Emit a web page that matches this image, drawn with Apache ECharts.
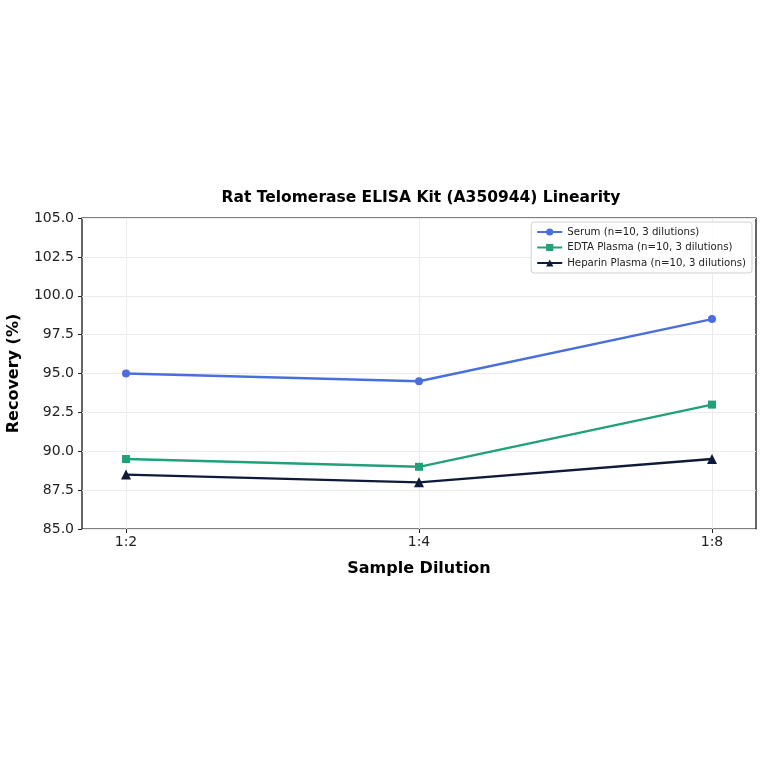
<!DOCTYPE html>
<html>
<head>
<meta charset="utf-8">
<script src="https://cdn.jsdelivr.net/npm/echarts@6/dist/echarts.min.js"></script>
<style>
  html, body { margin: 0; padding: 0; background: #fff; }
  #chart { width: 764px; height: 764px; }
</style>
</head>
<body>
<div id="chart"></div>
<script>
const dilutions = ['1:2', '1:4', '1:8']
const serum = [95.0, 94.5, 98.5]
const edtaPlasma = [89.5, 89.0, 93.0]
const heparinPlasma = [88.5, 88.0, 89.5]
const seriesNames = [
  'Serum (n=10, 3 dilutions)',
  'EDTA Plasma (n=10, 3 dilutions)',
  'Heparin Plasma (n=10, 3 dilutions)'
]
const colors = ['#4a6fdc', '#22a07a', '#0f1a3a']

const chart = echarts.init(document.getElementById('chart'))
const font = 'DejaVu Sans'

const makeLine = (name, data, color, symbol) => ({
  name,
  type: 'line',
  xAxisIndex: 1,
  yAxisIndex: 1,
  data,
  symbol,
  symbolSize: symbol === 'triangle' ? 10 : 8,
  showSymbol: true,
  lineStyle: { color, width: 2.4 },
  itemStyle: { color },
  emphasis: { disabled: true },
  z: 5
})

const option = {
  animation: false,
  backgroundColor: '#fff',
  title: {
    text: 'Rat Telomerase ELISA Kit (A350944) Linearity',
    left: 416,
    top: 185,
    textAlign: 'center',
    textStyle: { fontFamily: font, fontSize: 15.5, fontWeight: 'bold', color: '#000' }
  },
  legend: {
    right: 12,
    top: 222,
    orient: 'vertical',
    itemGap: 5.5,
    itemWidth: 25,
    itemHeight: 9,
    padding: [5, 6, 5, 5],
    borderColor: '#d0d0d0',
    borderWidth: 1,
    borderRadius: 3,
    backgroundColor: 'rgba(255,255,255,0.85)',
    textStyle: { fontFamily: font, fontSize: 10.2, color: '#222' },
    data: seriesNames
  },
  grid: [
    { left: 82, right: 8, top: 218, bottom: 235, outerBoundsMode: 'none', containLabel: false, show: true, borderColor: '#000', borderWidth: 1.2, backgroundColor: 'transparent' },
    { left: 126, right: 52, top: 218, bottom: 235, outerBoundsMode: 'none', containLabel: false }
  ],
  xAxis: [
    { gridIndex: 0, type: 'value', show: false, min: 0, max: 1 },
    {
      gridIndex: 1,
      type: 'category',
      data: dilutions,
      boundaryGap: false,
      name: 'Sample Dilution',
      nameLocation: 'middle',
      nameGap: 32,
      nameTextStyle: { fontFamily: font, fontSize: 16, fontWeight: 'bold', color: '#000' },
      axisLine: { show: false },
      axisTick: { show: true, alignWithLabel: true, length: 4, lineStyle: { color: '#222' } },
      axisLabel: { fontFamily: font, fontSize: 14, color: '#222', margin: 6 },
      splitLine: { show: true, lineStyle: { color: '#ebebeb', width: 1 } }
    }
  ],
  yAxis: [
    {
      gridIndex: 0,
      type: 'value',
      min: 85,
      max: 105,
      interval: 2.5,
      name: 'Recovery (%)',
      nameLocation: 'middle',
      nameGap: 60,
      nameTextStyle: { fontFamily: font, fontSize: 16, fontWeight: 'bold', color: '#000' },
      axisLine: { show: false },
      axisTick: { show: true, length: 4, lineStyle: { color: '#222' } },
      axisLabel: { fontFamily: font, fontSize: 14, color: '#222', margin: 8, formatter: v => v.toFixed(1) },
      splitLine: { show: true, lineStyle: { color: '#ebebeb', width: 1 } }
    },
    { gridIndex: 1, type: 'value', min: 85, max: 105, interval: 2.5, show: false, splitLine: { show: false } }
  ],
  series: [
    makeLine(seriesNames[0], serum, colors[0], 'circle'),
    makeLine(seriesNames[1], edtaPlasma, colors[1], 'rect'),
    makeLine(seriesNames[2], heparinPlasma, colors[2], 'triangle')
  ]
}

option && chart.setOption(option)

window.addEventListener('resize', function () {
  chart.resize()
})
</script>
</body>
</html>
